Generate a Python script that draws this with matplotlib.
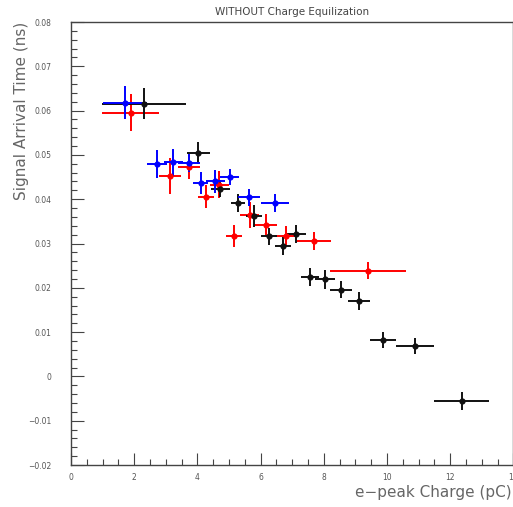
import matplotlib
matplotlib.use("Agg")
import matplotlib.pyplot as plt
from matplotlib.ticker import MultipleLocator

# red series
red_x = [1.89, 3.13, 3.74, 4.26, 4.69, 5.16, 5.66, 6.16, 6.80, 7.69, 9.41]
red_y = [0.0595, 0.0452, 0.0472, 0.0406, 0.0433, 0.0316, 0.0364, 0.0342, 0.0318, 0.0306, 0.0239]
red_xerr = [0.90, 0.35, 0.35, 0.25, 0.30, 0.25, 0.30, 0.35, 0.35, 0.55, 1.20]
red_yerr = [0.0042, 0.0040, 0.0027, 0.0025, 0.0030, 0.0025, 0.0030, 0.0025, 0.0022, 0.0020, 0.0020]

# black series
black_x = [2.31, 4.03, 4.72, 5.29, 5.79, 6.27, 6.70, 7.12, 7.56, 8.04, 8.54, 9.12, 9.88, 10.89, 12.36]
black_y = [0.0616, 0.0504, 0.0424, 0.0391, 0.0363, 0.0316, 0.0294, 0.0322, 0.0224, 0.0219, 0.0196, 0.0170, 0.0083, 0.0068, -0.0056]
black_xerr = [1.34, 0.37, 0.30, 0.22, 0.25, 0.25, 0.25, 0.30, 0.28, 0.32, 0.35, 0.35, 0.41, 0.60, 0.87]
black_yerr = [0.0035, 0.0025, 0.0020, 0.0020, 0.0025, 0.0020, 0.0020, 0.0020, 0.0020, 0.0022, 0.0020, 0.0020, 0.0018, 0.0018, 0.0020]

# blue series
blue_x = [1.71, 2.71, 3.23, 3.73, 4.10, 4.56, 5.03, 5.63, 6.45]
blue_y = [0.0618, 0.0479, 0.0483, 0.0481, 0.0436, 0.0440, 0.0451, 0.0404, 0.0391]
blue_xerr = [0.70, 0.32, 0.30, 0.35, 0.25, 0.30, 0.30, 0.35, 0.45]
blue_yerr = [0.0038, 0.0032, 0.0030, 0.0020, 0.0025, 0.0025, 0.0018, 0.0020, 0.0020]

x_ticks = [0, 2, 4, 6, 8, 10, 12, 14]
x_labels = ["0", "2", "4", "6", "8", "10", "12", "14"]
y_ticks = [-0.02, -0.01, 0, 0.01, 0.02, 0.03, 0.04, 0.05, 0.06, 0.07, 0.08]
y_labels = ["\u22120.02", "\u22120.01", "0", "0.01", "0.02", "0.03", "0.04",
            "0.05", "0.06", "0.07", "0.08"]

title = "WITHOUT Charge Equilization"
x_title = "e\u2212peak Charge (pC)"
y_title = "Signal Arrival Time (ns)"

fig = plt.figure(figsize=(5.13, 5.07), dpi=100)
ax = fig.add_axes([0.1384, 0.0828, 0.8625, 0.8738])

# red first, black over it, blue on top
series = [
    (red_x, red_y, red_xerr, red_yerr, "#ff0000"),
    (black_x, black_y, black_xerr, black_yerr, "#111111"),
    (blue_x, blue_y, blue_xerr, blue_yerr, "#0000ff"),
]
for xs, ys, xe, ye, col in series:
    ax.errorbar(xs, ys, xerr=xe, yerr=ye, fmt="o", color=col, ms=4.5,
                elinewidth=1.4, capsize=0, mew=0)

ax.set_xlim(0, 14)
ax.set_ylim(-0.02, 0.08)

ax.set_xticks(x_ticks)
ax.set_xticklabels(x_labels)
ax.set_yticks(y_ticks)
ax.set_yticklabels(y_labels)
ax.xaxis.set_minor_locator(MultipleLocator(0.5))
ax.yaxis.set_minor_locator(MultipleLocator(0.002))

tick_col = "#444444"
ax.tick_params(axis="both", which="major", direction="in", length=9, width=0.8,
               color=tick_col, labelsize=5.5, labelcolor="#555555",
               top=False, right=False)
ax.tick_params(axis="both", which="minor", direction="in", length=4.5, width=0.8,
               color=tick_col, top=False, right=False)
ax.tick_params(axis="x", which="major", pad=6)
ax.tick_params(axis="y", which="major", pad=14)
for s in ax.spines.values():
    s.set_color(tick_col)
    s.set_linewidth(1.0)

fig.text(0.569, 0.976, title, ha="center", va="center", fontsize=7.5, color="#444444")
fig.text(0.998, 0.028, x_title, ha="right", va="center", fontsize=11, color="#666666")
fig.text(0.042, 0.957, y_title, ha="center", va="top", rotation=90, fontsize=11,
         color="#666666")

fig.savefig("out.png", dpi=100, facecolor="white")
